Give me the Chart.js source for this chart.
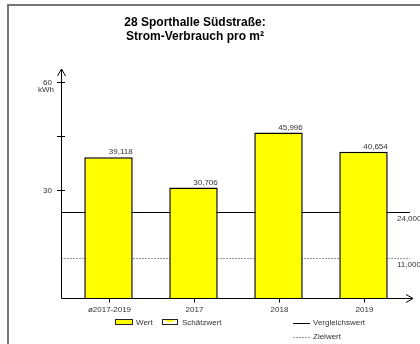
<!DOCTYPE html>
<html><head><meta charset="utf-8">
<script src="https://cdn.jsdelivr.net/npm/chart.js@4/dist/chart.umd.min.js"></script>
<style>html,body{margin:0;padding:0;background:#fff}#wrap{width:420px;height:344px;position:relative}</style>
</head><body><div id="wrap"><canvas id="c" width="420" height="344"></canvas></div>
<script>
const categories = ["ø2017-2019", "2017", "2018", "2019"];
const values = [39.118, 30.706, 45.996, 40.654];
const valueLabels = ["39,118", "30,706", "45,996", "40,654"];
const yTicks = [30, 45, 60];
const yTickLabels = ["30", "", "60"];
const refValues = [24, 11];
const refLabels = ["24,000", "11,000"];
const titleLines = ["28 Sporthalle Südstraße:", "Strom-Verbrauch pro m²"];
const legendItems = ["Wert", "Schätzwert", "Vergleichswert", "Zielwert"];

const F = '"Liberation Sans", Arial, sans-serif';

const deco = {
  id: 'deco',
  beforeDatasetsDraw(chart) {
    const ctx = chart.ctx, y = chart.scales.y;
    const axX = 61;
    ctx.save();
    refValues.forEach((v, i) => {
      const py = Math.round(y.getPixelForValue(v)) + 0.5;
      ctx.beginPath();
      if (i === 0) { ctx.strokeStyle = '#000'; ctx.setLineDash([]); }
      else { ctx.strokeStyle = '#999'; ctx.setLineDash([2, 1]); }
      ctx.lineWidth = 1;
      ctx.moveTo(axX, py); ctx.lineTo(410, py); ctx.stroke();
      ctx.setLineDash([]);
      ctx.fillStyle = '#333'; ctx.font = '8px ' + F;
      ctx.textAlign = 'left'; ctx.textBaseline = 'middle';
      ctx.fillText(refLabels[i], 397, py + 6);
    });
    ctx.restore();
  },
  afterDatasetsDraw(chart) {
    const ctx = chart.ctx, y = chart.scales.y, x = chart.scales.x;
    const axX = 61.5, axY = Math.round(y.getPixelForValue(0)) + 0.5;
    ctx.save();
    ctx.strokeStyle = '#777'; ctx.lineWidth = 2;
    ctx.beginPath(); ctx.moveTo(8, 344); ctx.lineTo(8, 5); ctx.lineTo(420, 5); ctx.stroke();
    ctx.fillStyle = '#000'; ctx.font = 'bold 12px ' + F;
    ctx.textAlign = 'center'; ctx.textBaseline = 'middle';
    ctx.fillText(titleLines[0], 195, 23);
    ctx.fillText(titleLines[1], 195, 37);
    ctx.strokeStyle = '#000'; ctx.lineWidth = 1;
    ctx.beginPath(); ctx.moveTo(axX, axY); ctx.lineTo(axX, 69); ctx.stroke();
    ctx.beginPath(); ctx.moveTo(57.5, 76); ctx.lineTo(axX, 69); ctx.lineTo(65.5, 76); ctx.stroke();
    ctx.beginPath(); ctx.moveTo(axX, axY); ctx.lineTo(413, axY); ctx.stroke();
    ctx.beginPath(); ctx.moveTo(406, axY - 4); ctx.lineTo(413, axY); ctx.lineTo(406, axY + 4); ctx.stroke();
    ctx.font = '8px ' + F; ctx.fillStyle = '#333';
    ctx.textAlign = 'right'; ctx.textBaseline = 'middle';
    yTicks.forEach((t, i) => {
      const py = Math.round(y.getPixelForValue(t)) + 0.5;
      ctx.beginPath(); ctx.moveTo(57, py); ctx.lineTo(65, py); ctx.stroke();
      if (yTickLabels[i]) ctx.fillText(yTickLabels[i], 52, py);
    });
    ctx.fillText('kWh', 54, Math.round(y.getPixelForValue(60)) + 8);
    ctx.textAlign = 'center';
    categories.forEach((c, i) => {
      const px = Math.round(x.getPixelForValue(i)) + 0.5;
      ctx.beginPath(); ctx.moveTo(px, axY); ctx.lineTo(px, axY + 4); ctx.stroke();
      ctx.fillText(c, px, 310);
    });
    const meta = chart.getDatasetMeta(0);
    ctx.textAlign = 'right'; ctx.textBaseline = 'bottom';
    meta.data.forEach((bar, i) => {
      ctx.fillText(valueLabels[i], bar.x + bar.width / 2, bar.y - 1);
    });
    ctx.textAlign = 'left'; ctx.textBaseline = 'middle';
    ctx.fillStyle = '#ffff00'; ctx.fillRect(115, 319, 18, 6);
    ctx.strokeStyle = '#222'; ctx.strokeRect(115.5, 319.5, 17, 5);
    ctx.fillStyle = '#333'; ctx.fillText(legendItems[0], 136, 322.5);
    ctx.fillStyle = '#fff'; ctx.fillRect(162, 319, 16, 6);
    ctx.fillStyle = '#ffff00';
    ctx.beginPath(); ctx.moveTo(164, 320); ctx.lineTo(176, 320); ctx.lineTo(170, 322.5); ctx.closePath(); ctx.fill();
    ctx.strokeStyle = '#222'; ctx.strokeRect(162.5, 319.5, 15, 5);
    ctx.fillStyle = '#333'; ctx.fillText(legendItems[1], 182, 322.5);
    ctx.strokeStyle = '#000';
    ctx.beginPath(); ctx.moveTo(293, 323.5); ctx.lineTo(310, 323.5); ctx.stroke();
    ctx.fillText(legendItems[2], 313, 323);
    ctx.strokeStyle = '#999'; ctx.setLineDash([2, 1]);
    ctx.beginPath(); ctx.moveTo(293, 337.5); ctx.lineTo(310, 337.5); ctx.stroke();
    ctx.setLineDash([]);
    ctx.fillText(legendItems[3], 313, 337);
    ctx.restore();
  }
};

new Chart(document.getElementById('c'), {
  type: 'bar',
  data: {
    labels: categories,
    datasets: [{
      data: values,
      backgroundColor: '#ffff00',
      borderColor: '#000',
      borderWidth: 1.5,
      categoryPercentage: 1,
      barPercentage: 0.57
    }]
  },
  options: {
    responsive: false,
    animation: false,
    events: [],
    layout: { padding: { left: 66, right: 14, top: 82, bottom: 46 } },
    plugins: { legend: { display: false }, tooltip: { enabled: false }, title: { display: false } },
    scales: {
      x: { display: false },
      y: { display: false, min: 0, max: 60 }
    }
  },
  plugins: [deco]
});
</script>
</body></html>
